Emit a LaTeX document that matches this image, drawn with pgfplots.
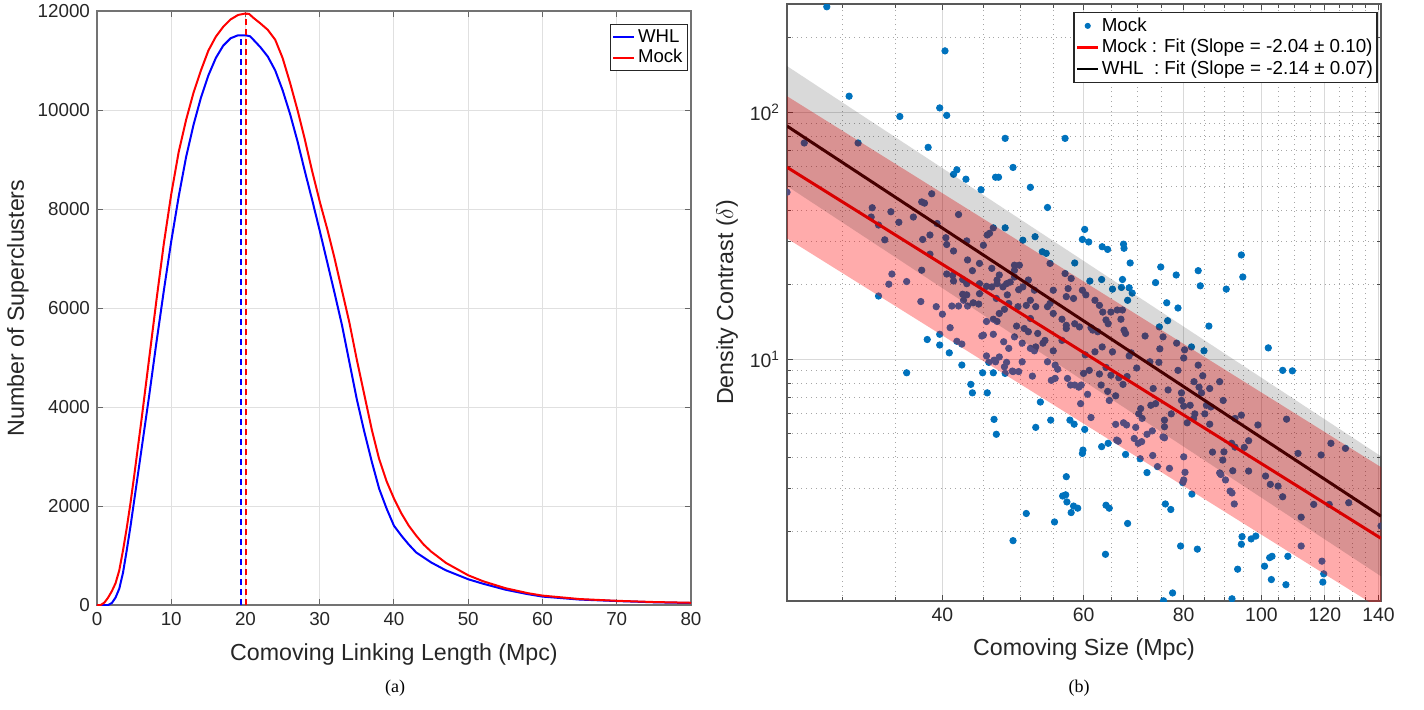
\documentclass[border=0pt]{standalone}
\usepackage{fontspec}
\setmainfont{Liberation Sans}
\newfontfamily\capfont{Liberation Serif}
\usepackage{pgfplots}
\usepackage{pgfplotstable}
\pgfplotsset{compat=1.18}
\definecolor{mblue}{rgb}{0,0.447,0.741}

% number of superclusters vs linking length
\pgfplotstableread{
x y
0 0
1.5 0
2 40
2.5 150
3 330
3.5 650
4 1100
4.5 1580
5 2100
6 3150
7 4200
8 5300
9 6350
10 7350
11 8250
12 9050
13 9700
14 10250
15 10700
16 11050
17 11300
18 11450
19 11510
20 11510
20.6 11490
21 11430
22 11270
23 11080
24 10800
25 10400
26 9920
27 9370
28 8760
29 8170
30 7560
31 6930
32 6300
33 5650
34 4900
35 4150
36 3500
37 2900
38 2350
39 1950
40 1600
41 1400
42 1220
43 1060
44 960
45 860
47 700
50 520
52 430
55 310
58 220
60 170
65 110
70 80
75 55
80 40
}\whlcurve

\pgfplotstableread{
x y
0 0
0.5 0
1 50
1.5 150
2 280
2.5 440
3 700
3.5 1100
4 1550
4.5 2050
5 2600
6 3750
7 4950
8 6150
9 7300
10 8300
11 9150
12 9800
13 10350
14 10800
15 11200
16 11480
17 11680
18 11830
19 11920
20 11950
20.5 11940
21 11870
22 11750
23 11620
24 11420
25 11050
26 10550
27 10000
28 9400
29 8750
30 8150
31 7600
32 7000
33 6350
34 5700
35 4950
36 4250
37 3550
38 2950
39 2500
40 2150
41 1850
42 1600
43 1400
44 1220
45 1080
47 850
50 600
52 480
55 340
58 240
60 190
65 120
70 85
75 60
80 45
}\mockcurve

% density contrast vs comoving size (mock superclusters)
\pgfplotstableread{
x y
28.7 267
30.6 116
40.3 177
39.7 104
40.5 97
35.4 96
26.9 75
31.4 75
38.4 72
25.6 47.4
41.3 56
41.7 58.4
42.8 53.5
44.7 48.5
46.6 54.5
47.0 54.5
32.7 41
32.6 37.6
34.5 39.5
35.3 35.8
33.3 34.9
33.9 30.4
36.8 37.6
37.7 43.3
38.0 42.8
38.8 46.7
41.9 38.5
39.4 35.4
37.8 30.5
38.6 31.8
40.4 31
40.5 29.1
41.3 27.4
43.0 25.2
42.9 30.1
45.0 28.9
45.5 31.8
45.8 32.3
46.3 34
44.5 24.4
46.1 23.3
34.6 22.1
34.3 20.1
33.3 18.0
36.1 20.6
37.7 22.9
37.6 17.1
39.3 16.3
40.0 15.2
40.5 22.1
41.2 21.8
41.3 20.7
42.4 21.0
42.9 20.2
42.4 18.3
42.9 18.2
42.5 17.3
41.9 16.4
43.0 16.4
43.7 16.9
44.4 16.7
45.4 19.7
46.1 19.6
46.8 20.2
45.4 14.2
46.3 14.5
46.8 14.2
40.9 13.4
46.7 17.6
38.3 12.0
39.7 12.6
39.7 11.4
40.8 10.6
41.7 11.8
42.3 11.5
42.3 9.46
36.1 8.8
43.4 7.9
43.6 7.3
44.9 8.8
46.3 8.8
45.5 7.3
45.4 10.3
45.7 9.7
45.0 12.5
46.3 12.6
46.4 5.7
46.7 4.96
52.3 5.29
53.0 6.7
50.9 2.37
49.0 1.84
51.8 8.53
47.9 8.75
48.9 8.94
54.6 5.66
57.7 5.66
58.4 5.45
60.2 5.19
63.2 4.42
64.4 4.56
59.9 4.28
59.8 4.15
57.1 3.34
56.5 2.79
57.0 2.82
57.2 2.64
58.3 2.54
59.0 2.49
57.9 2.39
55.2 2.19
64.0 2.56
64.6 2.49
68.1 2.16
63.9 1.62
67.7 4.11
72.0 3.47
70.6 3.95
75.9 2.59
77.1 2.46
79.3 1.75
75.5 1.05
77.5 1.13
66.0 4.70
66.3 4.65
65.8 5.44
67.3 5.52
67.9 5.41
69.7 5.29
69.4 4.77
70.2 4.56
70.9 4.63
72.0 4.96
73.1 5.12
75.4 4.84
75.7 4.80
75.7 5.32
75.7 5.66
73.2 4.07
74.2 3.67
76.8 3.61
80.0 4.02
80.3 3.48
79.8 3.16
80.0 3.24
80.8 5.52
81.9 2.84
86.0 13.6
102.0 11.1
106.3 9.0
109.3 8.96
81.8 11.2
84.8 10.8
107.5 5.71
99.0 5.41
94.4 5.93
86.9 4.2
89.8 4.21
96.4 4.67
95.2 4.39
111.1 4.15
118.7 4.09
122.1 4.56
127.3 4.35
128.5 2.62
121.5 2.58
116.2 2.58
112.1 2.29
141.0 2.11
106.3 2.77
102.6 3.11
104.9 3.06
101.2 3.36
92.1 3.53
96.4 3.52
88.7 3.46
89.0 3.41
90.2 3.24
91.4 2.92
91.9 2.87
92.5 2.59
94.6 1.91
94.4 1.78
97.1 1.87
98.4 1.92
112.1 1.75
107.9 1.59
103.1 1.59
102.4 1.57
100.9 1.45
93.4 1.41
102.9 1.28
107.3 1.22
119.0 1.52
119.6 1.35
119.3 1.25
91.9 1.07
83.2 1.70
46.4 9.9
48.1 9.7
49.0 8.9
49.5 13.6
50.6 13.3
52.1 10.8
52.6 12.7
53.4 11.6
53.7 11.9
54.1 9.75
54.7 8.2
55.3 8.35
55.0 10.8
55.3 9.45
55.7 9.1
56.4 11.9
57.1 13.7
57.3 8.35
57.8 7.85
58.5 7.85
59.2 7.7
59.6 7.85
59.5 6.6
60.0 8.75
60.3 10.4
60.7 7.2
61.0 9.0
61.3 13.4
61.3 5.8
62.0 10.7
62.8 8.7
63.1 7.85
63.3 11.2
64.0 9.25
64.3 7.4
64.6 6.8
64.9 8.6
65.2 10.7
65.8 7.1
66.4 8.4
67.2 7.9
67.7 12.7
68.0 8.5
68.4 10.3
68.8 10.6
69.9 9.2
70.3 6.0
70.7 6.3
71.0 5.75
71.6 12.4
72.6 9.75
72.8 6.5
73.3 7.6
73.8 6.6
74.5 9.7
74.7 11.0
75.4 12.3
76.5 7.5
77.2 6.0
78.4 11.6
78.7 9.0
79.5 6.8
80.0 10.1
80.2 10.9
81.5 6.5
82.4 8.1
82.6 6.0
83.4 9.45
84.2 7.3
84.5 8.56
85.0 6.0
85.4 6.5
86.2 7.6
86.5 6.4
88.7 8.1
89.6 6.8
91.8 4.56
92.7 4.4
83.6 7.7
79.5 7.3
80.0 6.45
82.3 5.75
86.2 5.45
92.7 5.75
89.5 3.9
59.8 30.5
60.9 29.8
63.3 28.5
64.3 27.8
67.3 29.2
67.4 28.1
68.6 24.5
74.9 23.6
78.3 21.9
73.8 20.4
76.2 16.9
78.7 16.1
76.4 14.3
74.6 13.5
65.2 19.2
67.1 21.0
66.9 19.5
68.4 19.45
69.0 18.5
68.1 17.3
61.1 20.7
63.2 21.0
58.5 24.5
53.3 27.2
53.9 26.8
52.2 31.3
54.5 24.4
56.9 22.2
57.9 21.2
59.8 19.0
60.4 18.2
57.4 19.3
57.1 17.9
58.3 17.6
54.5 16.8
54.1 16.3
51.5 14.6
55.0 19.0
55.0 15.3
56.4 14.5
57.1 13.3
58.5 13.9
59.3 13.5
62.0 17.3
62.8 16.5
63.4 15.5
64.9 15.5
66.1 15.8
67.1 15.8
64.0 14.4
64.4 13.9
66.8 14.5
67.4 13.1
62.5 12.9
61.6 13.1
51.5 49.6
47.9 34.0
50.4 30.3
38.6 26.6
43.6 22.8
47.1 21.9
46.8 20.9
47.6 19.6
48.1 20.2
49.2 24.0
49.9 24.0
49.2 22.9
48.6 20.5
49.2 21.5
49.8 19.1
50.4 19.6
51.2 20.9
52.1 19.0
51.5 17.3
52.3 16.3
50.9 16.5
49.7 16.3
48.4 16.8
48.2 18.2
47.8 15.9
47.1 15.3
44.5 20.2
44.5 18.4
41.1 16.4
47.7 11.75
48.4 11.05
49.2 12.3
51.2 12.9
50.3 11.6
51.5 11.05
52.3 11.2
46.6 9.75
47.1 10.2
47.8 9.3
50.3 9.75
49.8 8.9
44.8 12.4
47.9 78.3
56.9 78.3
49.0 59.7
54.1 41.1
60.2 33.5
83.4 22.8
83.9 19.8
90.4 19.2
94.4 26.4
94.8 21.5
}\mockpts

\begin{document}
\begin{tikzpicture}
\path[use as bounding box] (0,0) rectangle (712pt,354.5pt);

\begin{axis}[
  at={(48.5pt,52pt)}, anchor=south west,
  scale only axis, width=297pt, height=297pt,
  xmin=0, xmax=80, ymin=0, ymax=12000,
  xtick={0,10,...,80}, ytick={0,2000,...,12000},
  scaled y ticks=false,
  /pgf/number format/1000 sep={},
  /pgf/number format/assume math mode=true,
  tick align=inside, tick pos=both, major tick length=3pt,
  grid=major, major grid style={black!12, line width=0.5pt},
  axis line style={black!55, line width=0.8pt},
  tick style={black!60, line width=0.5pt},
  ticklabel style={font=\fontsize{9.4}{11}\selectfont, text=black!85},
  label style={font=\fontsize{11.6}{13}\selectfont, text=black!85},
  xlabel={Comoving Linking Length (Mpc)},
  ylabel={Number of Superclusters},
  xlabel style={at={(axis description cs:0.5,-0.084)}, anchor=center},
  ylabel style={at={(axis description cs:-0.133,0.5)}, anchor=center},
  legend style={at={(0.995,0.978)}, anchor=north east,
    font=\fontsize{9.3}{9.3}\selectfont, draw=black!85, line width=0.5pt,
    inner xsep=1pt, inner ysep=0.5pt, row sep=-2pt,
    nodes={inner xsep=1.5pt, inner ysep=2pt}},
  legend cell align=left,
  legend image code/.code={\draw[#1, line width=1pt] (0pt,0pt) -- (10.5pt,0pt);},
]
\addplot[blue, line width=1pt] table {\whlcurve};
\addlegendentry{WHL}
\addplot[red, line width=1pt] table {\mockcurve};
\addlegendentry{Mock}
\addplot[blue, line width=1pt, dash pattern=on 3pt off 2pt, forget plot] coordinates {(19.4,0) (19.4,11510)};
\addplot[red, line width=1pt, dash pattern=on 3pt off 2pt, forget plot] coordinates {(20.05,0) (20.05,11950)};
\end{axis}

\begin{axis}[
  at={(393.5pt,54pt)}, anchor=south west,
  scale only axis, width=297pt, height=298.5pt,
  xmode=log, ymode=log,
  xmin=25.6, xmax=141, ymin=1.048, ymax=274,
  clip marker paths=true,
  xtick={40,60,80,100,120,140}, xticklabels={40,60,80,100,120,140},
  minor xtick={30,35,45,50,55,65,70,75,85,90,95,105,110,115,125,130,135},
  ytick={10,100}, yticklabels={10\textsuperscript{1},10\textsuperscript{2}},
  minor ytick={2,3,4,5,6,7,8,9,20,30,40,50,60,70,80,90,200},
  grid=both, major grid style={black!15, line width=0.5pt},
  minor grid style={black!35, dotted, line width=0.5pt},
  tick align=inside, tick pos=both, major tick length=3pt, minor tick length=1.8pt,
  axis line style={black!65, line width=0.9pt},
  tick style={black!70, line width=0.5pt},
  ticklabel style={font=\fontsize{9.7}{11}\selectfont, text=black!85},
  label style={font=\fontsize{11.6}{13}\selectfont, text=black!85},
  xlabel={Comoving Size (Mpc)},
  ylabel={Density Contrast ($\delta$)},
  xlabel style={at={(axis description cs:0.5,-0.082)}, anchor=center},
  ylabel style={at={(axis description cs:-0.101,0.5)}, anchor=center},
  legend style={at={(0.995,0.987)}, anchor=north east,
    font=\fontsize{9.4}{9.4}\selectfont, draw=black!85, line width=0.8pt,
    inner xsep=1pt, inner ysep=0.5pt, row sep=-1.5pt,
    nodes={inner xsep=1.2pt, inner ysep=2pt}},
  legend cell align=left,
  legend image code/.code={\draw[#1, line width=1.2pt] (0pt,0pt) -- (10.5pt,0pt);},
]
\addplot[only marks, mark=*, mark size=1.6pt, color=mblue, mark options={draw=mblue, fill=mblue},
  legend image code/.code={\fill[mblue] (5.25pt,0pt) circle (1.1pt);}] table {\mockpts};
\addlegendentry{Mock}
\addplot[red, line width=1.5pt] coordinates {(25.6,59.8) (141,1.88)};
\addlegendentry{Mock : Fit (Slope = -2.04 ± 0.10)}
\addplot[black, line width=1.5pt] coordinates {(25.6,87.8) (141,2.31)};
\addlegendentry{WHL\ \ : Fit (Slope = -2.14 ± 0.07)}
\addplot[draw=none, fill=red, fill opacity=0.33, forget plot] coordinates {(25.6,116) (141,3.65) (141,0.97) (25.6,30.8)} -- cycle;
\addplot[draw=none, fill=black, fill opacity=0.15, forget plot] coordinates {(25.6,153.6) (141,4.04) (141,1.32) (25.6,50.2)} -- cycle;
\end{axis}

\node[font=\capfont\fontsize{9}{10}\selectfont] at (197.5pt,10.5pt) {(a)};
\node[font=\capfont\fontsize{9}{10}\selectfont] at (539.5pt,10.5pt) {(b)};
\end{tikzpicture}
\end{document}
